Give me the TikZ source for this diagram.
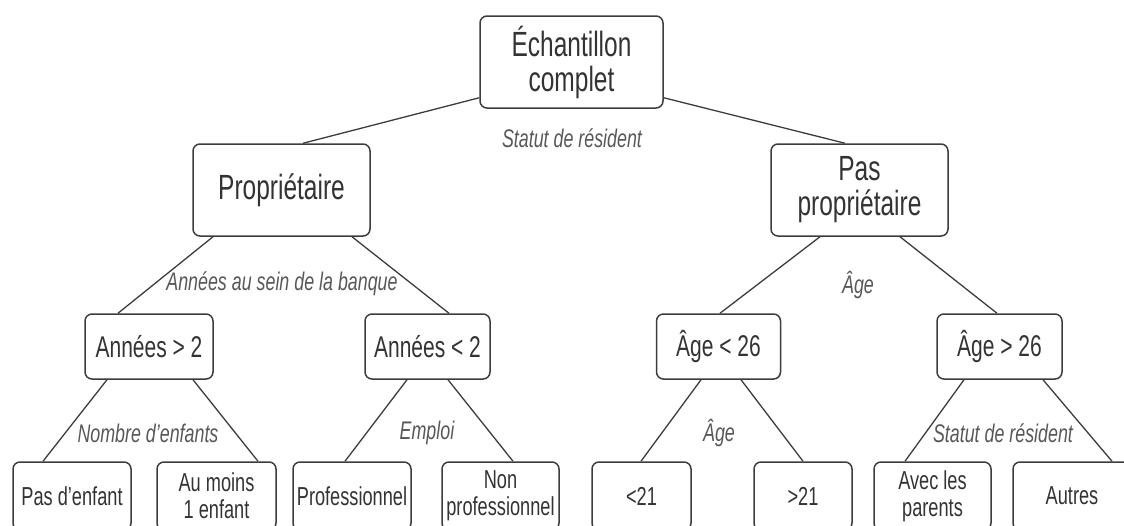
\documentclass[tikz,border=0pt]{standalone}
\usepackage{fontspec}
\setmainfont{Liberation Sans}[FakeStretch=0.7]
\usetikzlibrary{calc}
\definecolor{ink}{HTML}{3C3C3C}
\definecolor{txt}{HTML}{333333}
\definecolor{lblc}{HTML}{585858}
\begin{document}
\begin{tikzpicture}[x=1pt,y=-1pt,
  box/.style={draw=ink, line width=1.5pt, rounded corners=7pt, align=center, inner sep=0pt, text=txt},
  sz/.style 2 args={minimum width=#1pt, minimum height=#2pt},
  big/.style={font=\fontsize{35}{35}\selectfont},
  mid/.style={font=\fontsize{30}{30}\selectfont},
  small/.style={font=\fontsize{26}{27}\selectfont},
  lbl/.style={font=\fontsize{25.5}{27}\selectfont\itshape, text=lblc, inner sep=0pt},
  edge/.style={draw=ink, line width=1.3pt}]
\clip (0,0) rectangle (1124,525);
% level 1
\node[box,big,sz={183}{92}] (root) at (571.5,62) {Échantillon\\complet};
\node[box,big,sz={177}{92}] (prop) at (281.5,190) {Propriétaire};
\node[box,big,sz={177}{92}] (pas) at (859.5,190) {Pas\\propriétaire};
% level 2
\node[box,mid,sz={128}{65}] (a2) at (149,346.5) {Années > 2};
\node[box,mid,sz={125}{65}] (a2l) at (427.5,346.5) {Années < 2};
\node[box,mid,sz={124}{65}] (ag1) at (718.5,346.5) {Âge < 26};
\node[box,mid,sz={125}{65}] (ag2) at (999.5,346.5) {Âge > 26};
% level 3
\node[box,small,sz={118}{68}] (pe) at (72,496) {Pas d'enfant};
\node[box,small,sz={119}{68}] (am) at (216.5,496) {Au moins\\1 enfant};
\node[box,small,sz={118}{68}] (pro) at (352,496) {Professionnel};
\node[box,small,sz={117}{68}] (np) at (500.5,496) {Non\\professionnel};
\node[box,small,sz={99}{68}] (l21) at (641.5,496) {<21};
\node[box,small,sz={98}{68}] (g21) at (803,496) {>21};
\node[box,small,sz={117}{68}] (av) at (932.5,496) {Avec les\\parents};
\node[box,small,sz={118}{68}] (au) at (1072,496) {Autres};
% edges
\draw[edge] ($(root.south west)+(0,-11)$) -- ($(prop.north)+(21.5,0)$);
\draw[edge] ($(root.south east)+(0,-11)$) -- ($(pas.north)+(-14.5,0)$);
\draw[edge] ($(prop.south)+(-68.5,0)$) -- ($(a2.north)+(-31,0)$);
\draw[edge] ($(prop.south)+(70.5,0)$) -- ($(a2l.north)+(21.5,0)$);
\draw[edge] ($(pas.south)+(-39.5,0)$) -- ($(ag1.north)+(1.5,0)$);
\draw[edge] ($(pas.south)+(40.5,0)$) -- ($(ag2.north)+(-2.5,0)$);
\draw[edge] ($(a2.south)+(-42,0)$) -- ($(pe.north)+(-29,0)$);
\draw[edge] ($(a2.south)+(44,0)$) -- ($(am.north)+(41.5,0)$);
\draw[edge] ($(a2l.south)+(-20.5,0)$) -- ($(pro.north)+(-7,0)$);
\draw[edge] ($(a2l.south)+(20.5,0)$) -- ($(np.north)+(12.5,0)$);
\draw[edge] ($(ag1.south)+(-17.5,0)$) -- ($(l21.north)+(-0.5,0)$);
\draw[edge] ($(ag1.south)+(22.5,0)$) -- (g21.north);
\draw[edge] ($(ag2.south)+(-35.5,0)$) -- ($(av.north)+(-27.5,0)$);
\draw[edge] ($(ag2.south)+(43.5,0)$) -- ($(au.north)+(40,0)$);
% labels
\node[lbl] (l1) at (572,138) {Statut de résident};
\node[lbl] (l2) at (282,284) {Années au sein de la banque};
\node[lbl] (l3) at (858,285) {Âge};
\node[lbl] (l4) at (148,433) {Nombre d'enfants};
\node[lbl] (l5) at (427,433) {Emploi};
\node[lbl] (l6) at (719,433) {Âge};
\node[lbl] (l7) at (1003,433) {Statut de résident};
\end{tikzpicture}
\end{document}
